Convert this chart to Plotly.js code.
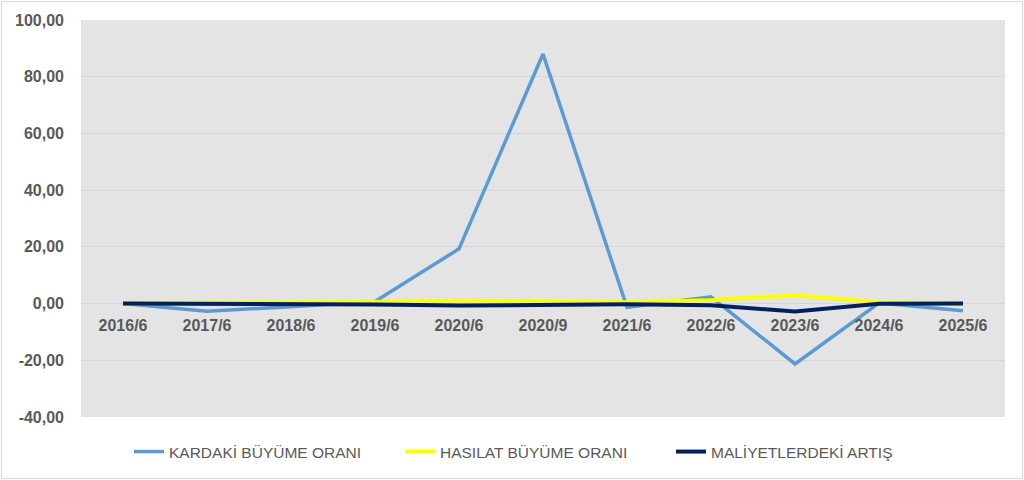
<!DOCTYPE html>
<html>
<head>
<meta charset="utf-8">
<script src="https://cdn.plot.ly/plotly-3.0.1.min.js"></script>
<style>
  body { margin: 0; background: #fff; }
  #wrap { position: relative; width: 1024px; height: 480px; }
  #growth-plot { width: 1024px; height: 480px; }
  #frame { position: absolute; left: 1px; top: 1px; width: 1020px; height: 476px;
           border: 1px solid #d9d9d9; pointer-events: none; }
</style>
</head>
<body>
<div id="wrap">
  <div id="growth-plot"></div>
  <div id="frame"></div>
</div>
<script>
// Periods on the category axis
var periods = ['2016/6', '2017/6', '2018/6', '2019/6', '2020/6', '2020/9',
               '2021/6', '2022/6', '2023/6', '2024/6', '2025/6'];

// Series values (%)
var kardaki = [0, -2.7, -1.1, 0.7, 19.3, 88.0, -1.3, 2.4, -21.3, 0.2, -2.5];
var hasilat = [0, 0.2, 0.6, 0.9, 0.8, 0.7, 0.5, 1.2, 2.8, 0.4, 0.0];
var maliyet = [0, 0.0, -0.2, -0.3, -0.7, -0.6, -0.2, -0.6, -2.8, -0.1, 0.0];

// Value axis ticks
var yTickVals = [-40, -20, 0, 20, 40, 60, 80, 100];
var yTickText = ['-40,00', '-20,00', '0,00', '20,00', '40,00', '60,00', '80,00', '100,00'];

function init_growth_plot( ){
    var trace1 = {
      x: periods,
      y: kardaki,
      type: 'scatter',
      mode: 'lines',
      name: 'KARDAKİ BÜYÜME ORANI',
      line: { color: '#5B9BD5', width: 3.5 }
    };

    var trace2 = {
      x: periods,
      y: hasilat,
      type: 'scatter',
      mode: 'lines',
      name: 'HASILAT BÜYÜME ORANI',
      line: { color: '#FFFF00', width: 4 }
    };

    var trace3 = {
      x: periods,
      y: maliyet,
      type: 'scatter',
      mode: 'lines',
      name: 'MALİYETLERDEKİ ARTIŞ',
      line: { color: '#002060', width: 4 }
    };

    var data = [trace1, trace2, trace3];

    var layout = {
        width: 1024,
        height: 480,
        showlegend: true,
        paper_bgcolor: '#ffffff',
        plot_bgcolor: '#e4e4e4',
        font: { family: 'Liberation Sans, Arial, sans-serif', color: '#595959' },
        margin: { l: 81, r: 19, t: 20, b: 63 },
        xaxis: {
            type: 'category',
            range: [-0.5, 10.5],
            anchor: 'free',
            position: 40 / 140,             // sit the labels on the zero line
            showgrid: false,
            showline: false,
            zeroline: false,
            ticks: '',
            ticklabelstandoff: 10,
            tickfont: { size: 16, color: '#595959', weight: 'bold' },
            fixedrange: true
        },
        yaxis: {
            range: [-40, 100],
            tickvals: yTickVals,
            ticktext: yTickText,
            showgrid: true,
            gridcolor: '#d6d6d6',
            gridwidth: 1,
            zeroline: false,
            showline: false,
            ticks: '',
            ticklabelstandoff: 16,
            tickfont: { size: 16, color: '#595959', weight: 'bold' },
            fixedrange: true
        },
        legend: {
            orientation: 'h',
            x: 129 / 1024,
            xanchor: 'left',
            xref: 'container',
            y: 28 / 480,
            yref: 'container',
            yanchor: 'middle',
            entrywidth: 226,
            traceorder: 'normal',
            font: { family: 'Liberation Sans, Arial, sans-serif', size: 15.5, color: '#595959' }
        }
    };

    var additional_param = {
        displayModeBar: false,
        displaylogo: false
    };

    var livePlotDiv = document.getElementById("growth-plot");
    if(livePlotDiv)
    {
        Plotly.newPlot('growth-plot', data, layout, additional_param);
    }
};

init_growth_plot();
</script>
</body>
</html>
